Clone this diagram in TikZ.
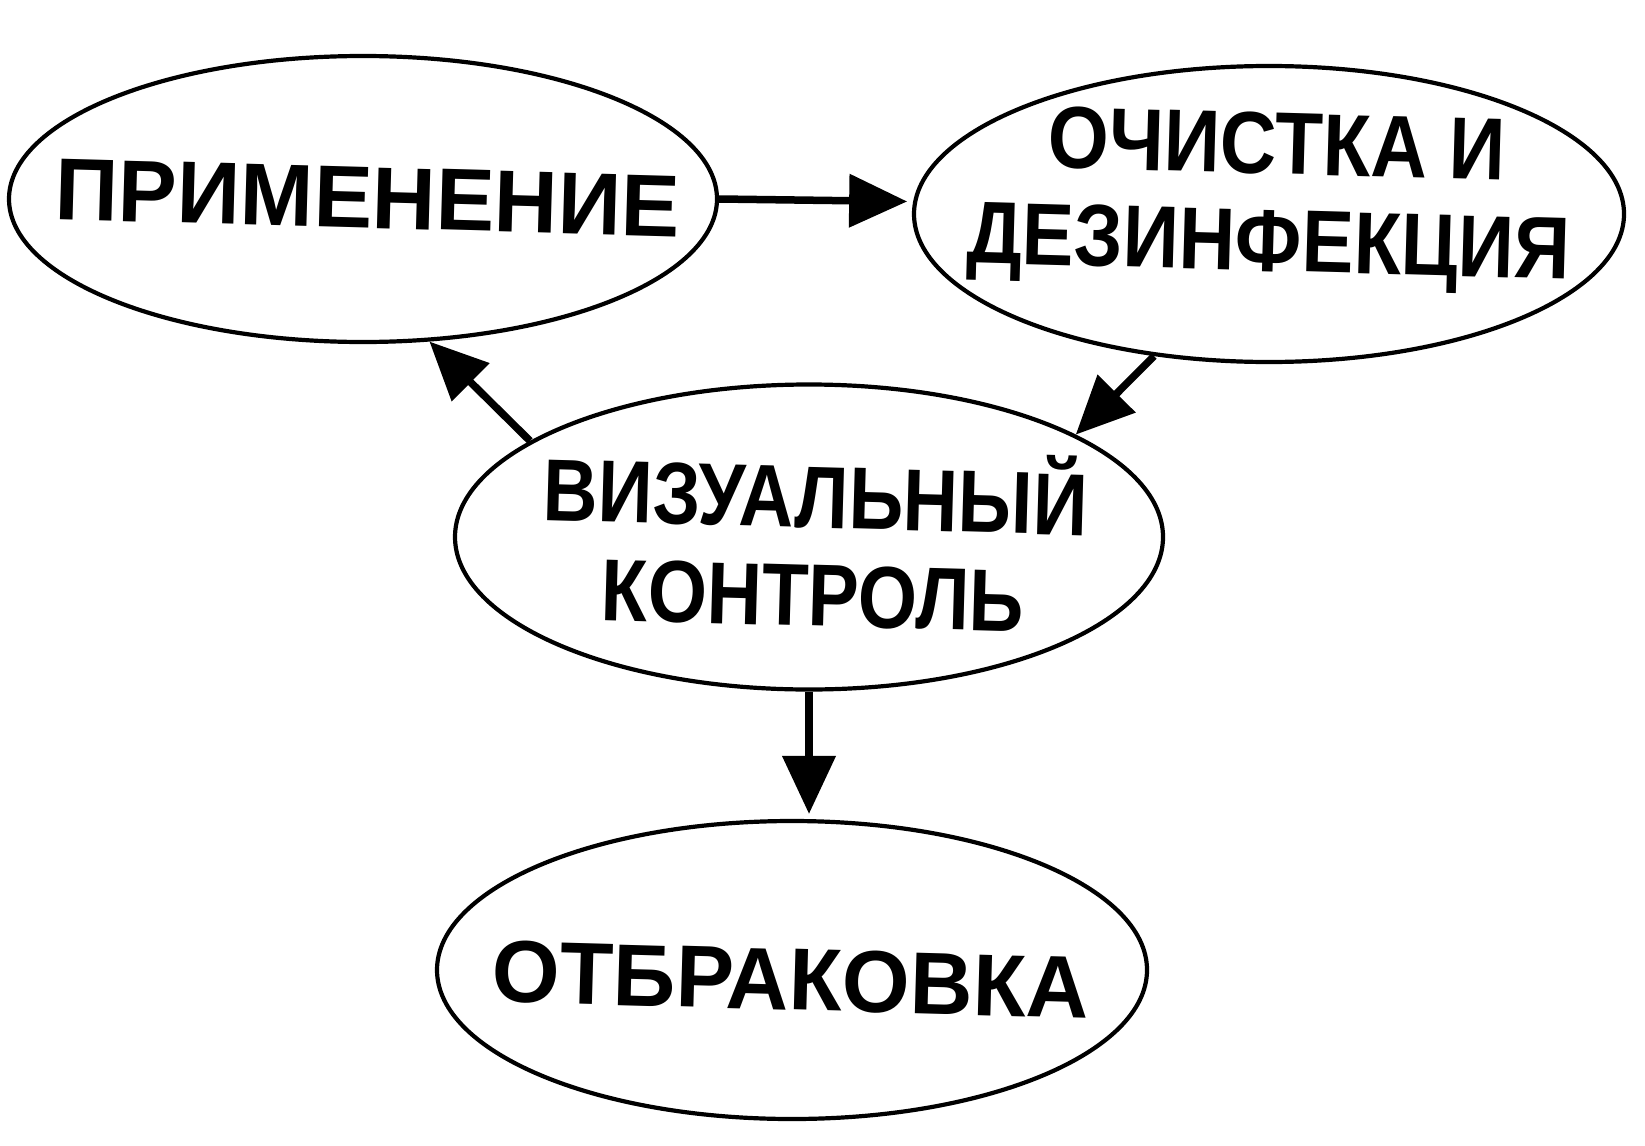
\documentclass[tikz,border=0pt]{standalone}
\usepackage{fontspec}
\setmainfont{Liberation Sans}
\usetikzlibrary{arrows.meta,shapes.geometric}
\begin{document}
\begin{tikzpicture}[x=1pt,y=-1pt,
  oval/.style={draw,ellipse,line width=4.2pt,inner sep=0pt},
  lbl/.style={anchor=base,inner sep=0pt,rotate=-1.6,font=\fontsize{88}{96}\selectfont\bfseries},
  conn/.style={line width=7.5pt,-{Triangle[length=58pt,width=52pt]}}]
\useasboundingbox (0,0) rectangle (1645,1145);
\fill[white] (0,0) rectangle (1645,1145);
% ellipses
\node[oval,minimum width=708pt,minimum height=286pt] (e1) at (363,199) {};
\node[oval,minimum width=710pt,minimum height=296pt] (e2) at (1269,214) {};
\node[oval,minimum width=708pt,minimum height=305pt] (e3) at (809,537) {};
\node[oval,minimum width=710pt,minimum height=298pt] (e4) at (792,970) {};
% labels
\node[lbl] (t1) at (367,228) {ПРИМЕНЕНИЕ};
\node[lbl] (t2a) at (1276,174) {\scalebox{0.89}[1]{ОЧИСТКА И}};
\node[lbl] (t2b) at (1268,271) {\scalebox{0.885}[1]{ДЕЗИНФЕКЦИЯ}};
\node[lbl] (t3a) at (815,528) {\scalebox{0.865}[1]{ВИЗУАЛЬНЫЙ}};
\node[lbl] (t3b) at (812,626) {\scalebox{0.865}[1]{КОНТРОЛЬ}};
\node[lbl] (t4) at (790,1010) {\scalebox{0.99}[1]{ОТБРАКОВКА}};
% connectors
\draw[conn,shorten >=6pt] (e1.east) -- (e2.178.2);
\draw[conn] (e2.231) -- (e3.21);
\draw[conn] (e3.161) -- (e1.295);
\draw[conn,shorten >=5pt] (e3.south) -- (e3.south |- e4.north);
\end{tikzpicture}
\end{document}
